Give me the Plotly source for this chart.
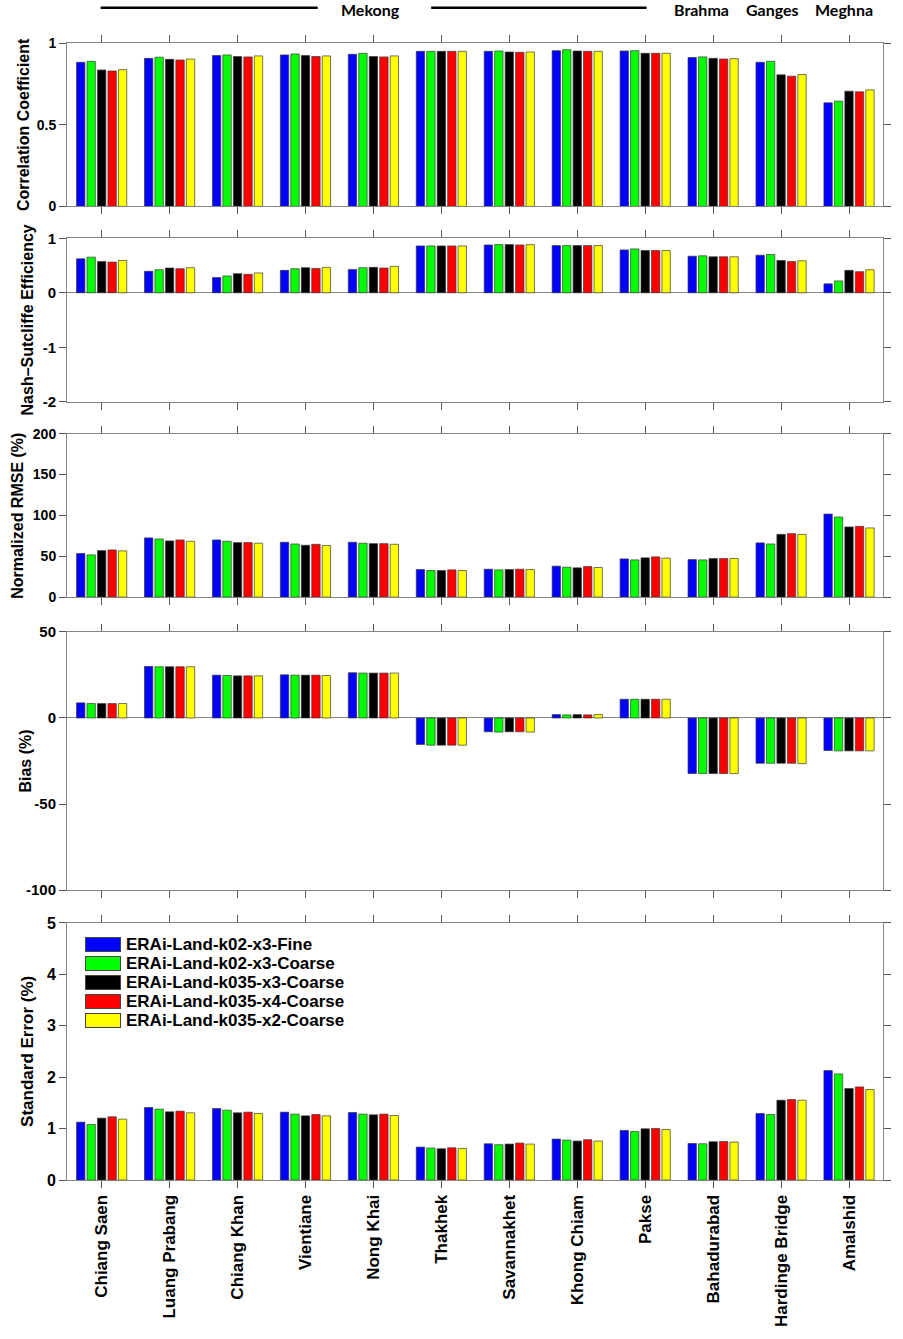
import plotly.graph_objects as go

stations = ["Chiang Saen", "Luang Prabang", "Chiang Khan", "Vientiane", "Nong Khai",
            "Thakhek", "Savannakhet", "Khong Chiam", "Pakse", "Bahadurabad",
            "Hardinge Bridge", "Amalshid"]

series_names = ["ERAi-Land-k02-x3-Fine", "ERAi-Land-k02-x3-Coarse", "ERAi-Land-k035-x3-Coarse",
                "ERAi-Land-k035-x4-Coarse", "ERAi-Land-k035-x2-Coarse"]
series_colors = ["#0000FF", "#00FF00", "#000000", "#FF0000", "#FFFF00"]

# Correlation coefficient (per series, 12 stations)
cc_fine      = [0.882, 0.906, 0.923, 0.927, 0.931, 0.949, 0.949, 0.953, 0.951, 0.911, 0.882, 0.634]
cc_k02c      = [0.888, 0.913, 0.927, 0.933, 0.937, 0.949, 0.951, 0.959, 0.953, 0.915, 0.888, 0.644]
cc_k035x3    = [0.835, 0.900, 0.917, 0.923, 0.917, 0.949, 0.945, 0.951, 0.937, 0.906, 0.805, 0.705]
cc_k035x4    = [0.829, 0.896, 0.915, 0.917, 0.915, 0.949, 0.943, 0.949, 0.937, 0.902, 0.797, 0.701]
cc_k035x2    = [0.837, 0.902, 0.921, 0.921, 0.921, 0.949, 0.945, 0.949, 0.937, 0.904, 0.807, 0.713]

# Nash-Sutcliffe efficiency
nse_fine     = [0.624, 0.394, 0.279, 0.412, 0.430, 0.861, 0.879, 0.867, 0.788, 0.673, 0.691, 0.164]
nse_k02c     = [0.655, 0.424, 0.309, 0.442, 0.461, 0.861, 0.885, 0.867, 0.806, 0.679, 0.703, 0.218]
nse_k035x3   = [0.576, 0.455, 0.352, 0.461, 0.467, 0.861, 0.885, 0.867, 0.776, 0.661, 0.594, 0.412]
nse_k035x4   = [0.564, 0.442, 0.339, 0.448, 0.455, 0.861, 0.879, 0.867, 0.776, 0.661, 0.576, 0.388]
nse_k035x2   = [0.594, 0.461, 0.364, 0.467, 0.485, 0.861, 0.885, 0.867, 0.776, 0.661, 0.588, 0.424]

# Normalized RMSE (%)
nrmse_fine   = [53.3, 72.4, 69.9, 67.1, 67.1, 33.7, 34.1, 37.8, 46.7, 45.9, 66.3, 101.6]
nrmse_k02c   = [51.6, 71.1, 68.3, 65.0, 65.9, 32.5, 33.3, 36.6, 45.5, 45.5, 65.0, 98.0]
nrmse_k035x3 = [56.9, 68.7, 66.7, 63.4, 65.4, 32.5, 33.7, 35.8, 48.0, 47.2, 76.8, 85.8]
nrmse_k035x4 = [57.7, 69.9, 66.7, 64.6, 65.4, 33.3, 34.1, 37.4, 49.2, 47.2, 77.6, 86.6]
nrmse_k035x2 = [56.5, 68.3, 65.9, 63.0, 64.6, 32.5, 33.7, 36.2, 47.6, 47.2, 76.8, 84.6]

# Bias (%)
bias_fine    = [8.8, 30.0, 24.9, 25.1, 26.3, -15.4, -8.0, 2.0, 10.9, -32.3, -26.3, -18.9]
bias_k02c    = [8.4, 29.8, 24.7, 24.9, 26.1, -15.8, -8.2, 1.8, 10.9, -32.3, -26.3, -19.1]
bias_k035x3  = [8.4, 29.8, 24.5, 24.9, 26.1, -15.8, -8.0, 2.0, 10.9, -32.3, -26.3, -19.1]
bias_k035x4  = [8.4, 29.8, 24.5, 24.9, 26.1, -15.8, -8.0, 1.8, 10.9, -32.3, -26.3, -19.1]
bias_k035x2  = [8.4, 29.8, 24.5, 24.7, 26.1, -15.8, -8.2, 2.0, 10.9, -32.3, -26.5, -19.1]

# Standard error (%)
se_fine      = [1.125, 1.410, 1.390, 1.320, 1.313, 0.640, 0.705, 0.796, 0.964, 0.711, 1.294, 2.128]
se_k02c      = [1.080, 1.378, 1.358, 1.281, 1.281, 0.621, 0.686, 0.776, 0.944, 0.705, 1.274, 2.063]
se_k035x3    = [1.203, 1.326, 1.307, 1.248, 1.268, 0.608, 0.699, 0.757, 0.996, 0.744, 1.552, 1.779]
se_k035x4    = [1.229, 1.339, 1.320, 1.274, 1.281, 0.627, 0.718, 0.783, 1.003, 0.750, 1.565, 1.811]
se_k035x2    = [1.184, 1.307, 1.294, 1.248, 1.255, 0.614, 0.699, 0.757, 0.983, 0.737, 1.552, 1.759]

panels = [
    ([cc_fine, cc_k02c, cc_k035x3, cc_k035x4, cc_k035x2], "Correlation Coefficient",
     [0, 1], [0, 0.5, 1], ["0", "0.5", "1"]),
    ([nse_fine, nse_k02c, nse_k035x3, nse_k035x4, nse_k035x2], "Nash\u2013Sutcliffe Efficiency",
     [-2, 1], [-2, -1, 0, 1], ["-2", "-1", "0", "1"]),
    ([nrmse_fine, nrmse_k02c, nrmse_k035x3, nrmse_k035x4, nrmse_k035x2], "Normalized RMSE (%)",
     [0, 200], [0, 50, 100, 150, 200], ["0", "50", "100", "150", "200"]),
    ([bias_fine, bias_k02c, bias_k035x3, bias_k035x4, bias_k035x2], "Bias (%)",
     [-100, 50], [-100, -50, 0, 50], ["-100", "-50", "0", "50"]),
    ([se_fine, se_k02c, se_k035x3, se_k035x4, se_k035x2], "Standard Error (%)",
     [0, 5], [0, 1, 2, 3, 4, 5], ["0", "1", "2", "3", "4", "5"]),
]

basins = ["Mekong", "Brahma", "Ganges", "Meghna"]

# layout geometry
domains = [[0.8563, 1.0], [0.6845, 0.8282], [0.5127, 0.6564], [0.2550, 0.4820], [0.0, 0.2261]]
ytick_sizes = [14, 15, 14, 15, 16]
ytitle_sizes = [16, 16, 16, 16, 17]
ytitle_x = [-0.0534, -0.0485, -0.0607, -0.052, -0.0485]

FONT = "Liberation Sans"
AXC = "#858585"

fig = go.Figure()
layout = dict(
    width=903, height=1339,
    margin=dict(l=67, r=12, t=43, b=155),
    paper_bgcolor="white", plot_bgcolor="white",
    barmode="group", bargap=0.23, bargroupgap=0.2,
    showlegend=False, hovermode=False,
    annotations=[], shapes=[],
)

for p, (series, title, yr, tv, tt) in enumerate(panels):
    idx = "" if p == 0 else str(p + 1)
    xa, ya = "x" + idx, "y" + idx
    for s in range(5):
        fig.add_trace(go.Bar(
            x=stations, y=series[s], name=series_names[s],
            marker=dict(color=series_colors[s], line=dict(color="#3a3a3a", width=0.7)),
            xaxis=xa, yaxis=ya, legendgroup=series_names[s],
        ))
    layout["xaxis" + idx] = dict(
        domain=[0, 1], anchor=ya, type="category",
        categoryorder="array", categoryarray=stations,
        range=[-0.51, 11.5],
        showline=True, linecolor=AXC, linewidth=1, mirror="ticks",
        ticks="outside", ticklen=7, tickcolor="#555", tickwidth=1,
        showgrid=False, zeroline=False,
        showticklabels=(p == 4), tickangle=-90,
        tickfont=dict(family=FONT, size=17, color="black", weight="bold"),
    )
    layout["yaxis" + idx] = dict(
        domain=domains[p], anchor=xa, range=yr,
        tickvals=tv, ticktext=tt,
        showline=True, linecolor=AXC, linewidth=1, mirror="ticks",
        ticks="outside", ticklen=7, tickcolor="#555", tickwidth=1,
        showgrid=False, zeroline=True, zerolinecolor=AXC, zerolinewidth=1,
        tickfont=dict(family=FONT, size=ytick_sizes[p], color="black", weight="bold"),
    )
    layout["annotations"].append(dict(
        text=title, xref="paper", yref="paper",
        x=ytitle_x[p], y=(domains[p][0] + domains[p][1]) / 2,
        xanchor="center", yanchor="middle", textangle=-90, showarrow=False,
        font=dict(family=FONT, size=ytitle_sizes[p], color="black", weight="bold"),
    ))

# legend (MATLAB-style wide swatches) inside the bottom panel
leg_x_swatch, leg_x_text, leg_y0, leg_dy = 0.0218, 0.0704, 0.2068, 0.01665
for s in range(5):
    yy = leg_y0 - s * leg_dy
    layout["annotations"].append(dict(
        text=" ", xref="paper", yref="paper", x=leg_x_swatch, y=yy,
        xanchor="left", yanchor="middle", showarrow=False,
        width=34, height=13, bgcolor=series_colors[s],
        bordercolor="#444", borderwidth=1, borderpad=0,
        font=dict(size=10),
    ))
    layout["annotations"].append(dict(
        text=series_names[s], xref="paper", yref="paper", x=leg_x_text, y=yy,
        xanchor="left", yanchor="middle", showarrow=False,
        font=dict(family=FONT, size=17, color="black", weight="bold"),
    ))

# basin labels above the top panel
basin_x = [3.95, 8.83, 9.88, 10.93]
for name, bx in zip(basins, basin_x):
    layout["annotations"].append(dict(
        text=name, xref="x", yref="paper", x=bx, y=1.0298,
        xanchor="center", yanchor="middle", showarrow=False,
        font=dict(family="Lato", size=16, color="black", weight="bold"),
    ))
for x0, x1 in [(-0.015, 3.18), (4.85, 8.02)]:
    layout["shapes"].append(dict(
        type="line", xref="x", yref="paper", x0=x0, x1=x1, y0=1.031, y1=1.031,
        line=dict(color="black", width=2.5),
    ))

fig.update_layout(**layout)
fig.write_html("out.html",
               config={"displayModeBar": False, "staticPlot": True},
               post_script="document.body.style.margin='0px';document.body.style.overflow='hidden';")
